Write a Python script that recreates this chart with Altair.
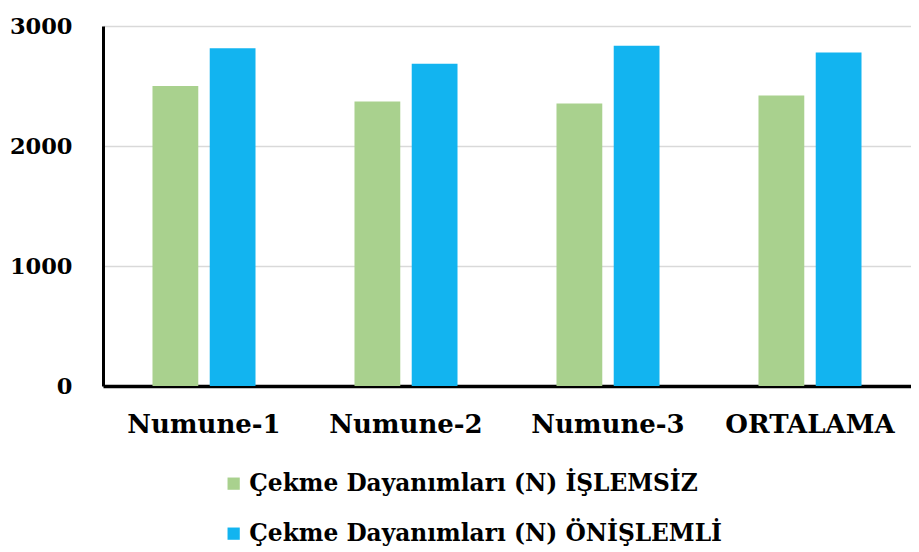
import altair as alt
import pandas as pd

categories = ["Numune-1", "Numune-2", "Numune-3", "ORTALAMA"]
series_names = ["Çekme Dayanımları (N) İŞLEMSİZ", "Çekme Dayanımları (N) ÖNİŞLEMLİ"]
islemsiz = [2500, 2370, 2355, 2420]
onislemli = [2815, 2685, 2835, 2780]
colors = ["#A9D18E", "#12B4F0"]

rows = []
for c, a, b in zip(categories, islemsiz, onislemli):
    rows.append({"cat": c, "series": series_names[0], "value": a})
    rows.append({"cat": c, "series": series_names[1], "value": b})
df = pd.DataFrame(rows)

FONT = "DejaVu Serif"

chart = alt.Chart(df).mark_bar().encode(
    x=alt.X("cat:N", sort=categories, title=None,
            scale=alt.Scale(paddingInner=0.49, paddingOuter=0.245),
            axis=alt.Axis(labelAngle=0, labelFont=FONT, labelFontSize=26,
                          labelFontWeight="bold", labelColor="black",
                          labelPadding=25, labelLimit=0, ticks=False,
                          domainColor="black", domainWidth=3.5, grid=False)),
    xOffset=alt.XOffset("series:N", sort=series_names,
                        scale=alt.Scale(paddingInner=0.2, paddingOuter=0)),
    y=alt.Y("value:Q", title=None,
            scale=alt.Scale(domain=[0, 3000], nice=False),
            axis=alt.Axis(values=[0, 1000, 2000, 3000], format="d",
                          labelFont=FONT, labelFontSize=22.5, labelFontWeight="bold",
                          labelColor="black", labelPadding=31, ticks=False,
                          domainColor="black", domainWidth=3,
                          gridColor="#D9D9D9", gridWidth=1.5)),
    color=alt.Color("series:N", sort=series_names,
                    scale=alt.Scale(domain=series_names, range=colors),
                    legend=alt.Legend(title=None, orient="none", legendX=119,
                                      legendY=446, direction="vertical",
                                      symbolType="square", symbolSize=150,
                                      symbolStrokeWidth=0, labelFont=FONT,
                                      labelFontSize=23.3, labelFontWeight="bold",
                                      labelColor="black", labelLimit=0,
                                      rowPadding=26, padding=0, labelOffset=4)),
).properties(
    width=808, height=360,
    autosize=alt.AutoSizeParams(type="none"),
    padding={"left": 95, "top": 18, "right": 0, "bottom": 160},
).configure_view(stroke=None)

chart.save("out.html", embed_options={"renderer": "svg", "actions": False})
